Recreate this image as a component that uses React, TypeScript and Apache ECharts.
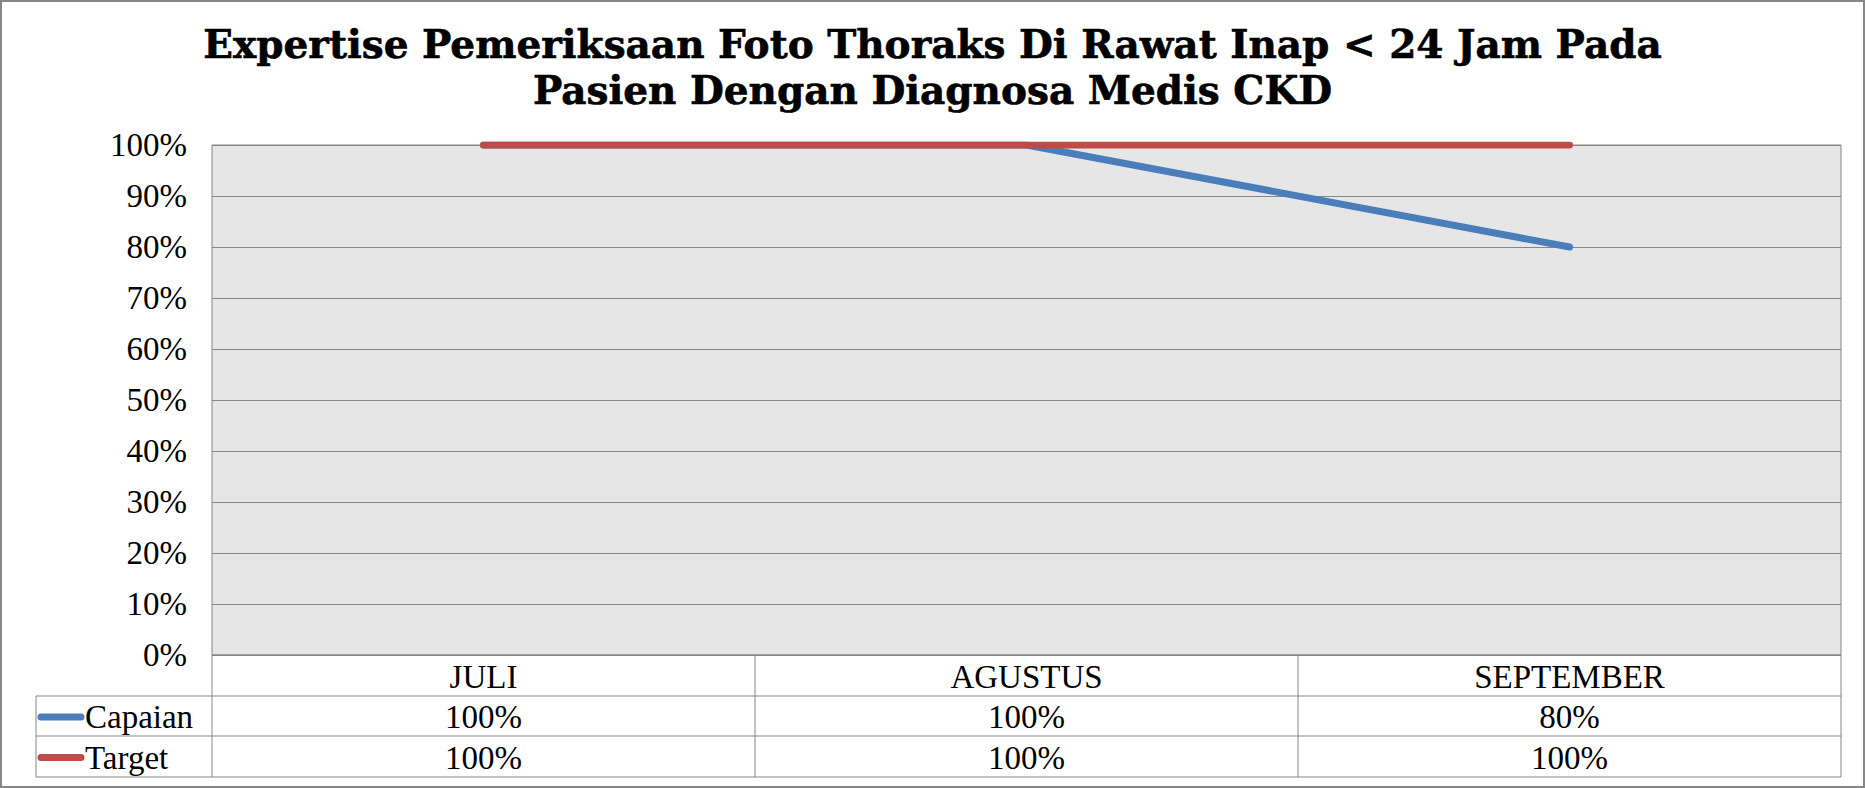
import React, { useEffect, useRef } from "react";
import * as echarts from "echarts";

const titleLines = [
  "Expertise Pemeriksaan Foto Thoraks Di Rawat Inap < 24 Jam Pada",
  "Pasien Dengan Diagnosa Medis CKD",
];
const categories = ["JULI", "AGUSTUS", "SEPTEMBER"];
const seriesNames = ["Capaian", "Target"];
const capaian = [100, 100, 80];
const target = [100, 100, 100];
const seriesColors = ["#4A7EBB", "#BE4B48"];
const yMin = 0;
const yMax = 100;
const yStep = 10;

const W = 1865;
const H = 788;
const GRID_LEFT = 212;
const GRID_RIGHT = 1841;
const GRID_TOP = 145;
const GRID_BOTTOM = 655;
const ROW_LINES = [655, 696, 736, 777];
const LEGEND_LEFT = 36;
const SERIF = "'Liberation Serif', 'Times New Roman', serif";
const LINE_GRAY = "#868686";
const FS = 33;

export default function App() {
  const ref = useRef<HTMLDivElement>(null);

  useEffect(() => {
    document.body.style.margin = "0";
    if (!ref.current) return;
    const chart = echarts.init(ref.current, null, { renderer: "svg", width: W, height: H });
    const seriesData = [capaian, target];

    chart.setOption({
      animation: false,
      backgroundColor: "#ffffff",
      title: {
        text: titleLines.join("\n"),
        left: "center",
        top: 16,
        textStyle: {
          fontFamily: "'DejaVu Serif', serif",
          fontWeight: "bold",
          fontSize: 39,
          lineHeight: 46,
          color: "#000000",
          textBorderColor: "#000000",
          textBorderWidth: 0.6,
        },
      },
      grid: {
        left: GRID_LEFT,
        right: W - GRID_RIGHT,
        top: GRID_TOP,
        bottom: H - GRID_BOTTOM,
        show: true,
        backgroundColor: "#E6E6E6",
        borderColor: LINE_GRAY,
        borderWidth: 1,
      },
      xAxis: {
        type: "category",
        data: categories,
        boundaryGap: true,
        axisLine: { show: false },
        axisTick: { show: false },
        axisLabel: { show: false },
        splitLine: { show: false },
      },
      yAxis: {
        type: "value",
        min: yMin,
        max: yMax,
        interval: yStep,
        axisLine: { show: false },
        axisTick: { show: false },
        axisLabel: {
          formatter: (v: number) => `${v}%`,
          fontFamily: SERIF,
          fontSize: FS,
          color: "#000000",
          margin: 25,
        },
        splitLine: { show: true, lineStyle: { color: LINE_GRAY, width: 1 } },
      },
      series: seriesNames.map((name, i) => ({
        name,
        type: "line",
        data: seriesData[i],
        symbol: "none",
        lineStyle: { color: seriesColors[i], width: 7, cap: "round", join: "round" },
        itemStyle: { color: seriesColors[i] },
        z: 3 + i,
      })),
    });

    const centers = categories.map((_, i) => chart.convertToPixel({ xAxisIndex: 0 }, i) as number);
    const half = centers.length > 1 ? (centers[1] - centers[0]) / 2 : (GRID_RIGHT - GRID_LEFT) / 2;
    const bounds = [centers[0] - half, ...centers.map((c) => c + half)];

    const els: any[] = [];
    const lineStyle = { stroke: LINE_GRAY, lineWidth: 1 };
    els.push({ type: "line", shape: { x1: GRID_LEFT, y1: ROW_LINES[0], x2: GRID_RIGHT, y2: ROW_LINES[0] }, style: lineStyle });
    for (let r = 1; r < ROW_LINES.length; r++) {
      els.push({ type: "line", shape: { x1: LEGEND_LEFT, y1: ROW_LINES[r], x2: GRID_RIGHT, y2: ROW_LINES[r] }, style: lineStyle });
    }
    els.push({ type: "line", shape: { x1: LEGEND_LEFT, y1: ROW_LINES[1], x2: LEGEND_LEFT, y2: ROW_LINES[3] }, style: lineStyle });
    bounds.forEach((bx) => {
      els.push({ type: "line", shape: { x1: bx, y1: ROW_LINES[0], x2: bx, y2: ROW_LINES[3] }, style: lineStyle });
    });
    categories.forEach((c, i) => {
      els.push({
        type: "text",
        x: centers[i],
        y: (ROW_LINES[0] + ROW_LINES[1]) / 2 + 1,
        style: { text: c, fontFamily: SERIF, fontSize: FS, fill: "#000", align: "center", verticalAlign: "middle" },
      });
    });
    seriesNames.forEach((name, s) => {
      const yc = (ROW_LINES[s + 1] + ROW_LINES[s + 2]) / 2 + 1;
      els.push({
        type: "line",
        shape: { x1: LEGEND_LEFT + 5, y1: yc, x2: LEGEND_LEFT + 45, y2: yc },
        style: { stroke: seriesColors[s], lineWidth: 7, lineCap: "round" },
      });
      els.push({
        type: "text",
        x: LEGEND_LEFT + 49,
        y: yc,
        style: { text: name, fontFamily: SERIF, fontSize: FS, fill: "#000", align: "left", verticalAlign: "middle" },
      });
      seriesData[s].forEach((v, i) => {
        els.push({
          type: "text",
          x: centers[i],
          y: yc,
          style: { text: `${v}%`, fontFamily: SERIF, fontSize: FS, fill: "#000", align: "center", verticalAlign: "middle" },
        });
      });
    });
    els.push({
      type: "rect",
      shape: { x: 1, y: 1, width: W - 2, height: H - 2 },
      style: { fill: "none", stroke: LINE_GRAY, lineWidth: 2 },
    });

    chart.setOption({ graphic: { elements: els } });

    return () => chart.dispose();
  }, []);

  return <div ref={ref} style={{ width: W, height: H }} />;
}
